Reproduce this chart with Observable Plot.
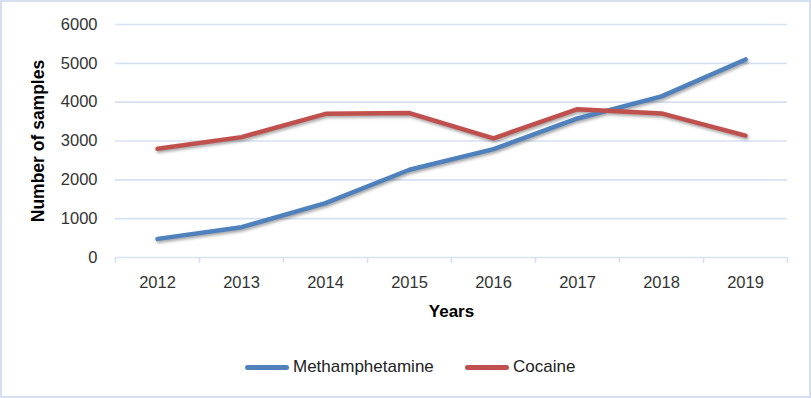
<!DOCTYPE html>
<html>
<head>
<meta charset="utf-8">
<script src="https://cdn.jsdelivr.net/npm/d3@7"></script>
<script src="https://cdn.jsdelivr.net/npm/@observablehq/plot@0.6"></script>
<style>
  html, body { margin: 0; padding: 0; background: #fff; }
  #wrap { position: relative; width: 811px; height: 398px; overflow: hidden; font-family: "Liberation Sans", Arial, sans-serif; }
  #wrap svg.chart { position: absolute; left: 0; top: 0; }
  #frame { position: absolute; left: 0; top: 0; width: 811px; height: 398px; box-sizing: border-box; border: 2px solid #d5dff0; pointer-events: none; }
  .shadow { filter: drop-shadow(1.5px 2px 1.5px rgba(0,0,0,0.35)); }
  #legend { position: absolute; left: 0; top: 357px; width: 811px; height: 20px; font-size: 17px; color: #222; }
  .item { position: absolute; top: 0; display: flex; align-items: center; height: 20px; }
  .swatch { width: 44px; height: 5px; border-radius: 3px; margin-right: 4px; }
</style>
</head>
<body>
<div id="wrap"></div>
<script>
const years = [2012, 2013, 2014, 2015, 2016, 2017, 2018, 2019];
const methamphetamine = [480, 780, 1400, 2260, 2790, 3580, 4150, 5100];
const cocaine = [2800, 3100, 3700, 3720, 3070, 3820, 3710, 3140];
const seriesNames = ["Methamphetamine", "Cocaine"];
const seriesColors = ["#4f81bd", "#c0504d"];
const yTicks = [0, 1000, 2000, 3000, 4000, 5000, 6000];

const data = [];
years.forEach((yr, i) => {
  data.push({year: yr, value: methamphetamine[i], series: seriesNames[0]});
  data.push({year: yr, value: cocaine[i], series: seriesNames[1]});
});
const boundaries = d3.range(years.length + 1).map(i => years[0] - 0.5 + i);
const gridCol = "#d6e1f2";

const chart = Plot.plot({
  width: 811,
  height: 335,
  marginTop: 24,
  marginBottom: 78,
  marginLeft: 115,
  marginRight: 24,
  style: {fontFamily: "Liberation Sans, Arial, sans-serif", fontSize: "16px", color: "#333", background: "transparent"},
  x: {type: "linear", domain: [years[0] - 0.5, years[years.length - 1] + 0.5]},
  y: {domain: [0, 6000]},
  color: {domain: seriesNames, range: seriesColors},
  marks: [
    Plot.ruleY(yTicks, {stroke: gridCol, strokeWidth: 1.6}),
    Plot.axisX({ticks: boundaries, tickSize: 6, stroke: gridCol, strokeWidth: 1.6, tickFormat: () => "", label: null}),
    Plot.axisX({ticks: years, tickSize: 0, tickPadding: 19, tickFormat: d => String(d), fontSize: 16.5, fill: "#333", label: null}),
    Plot.axisY({ticks: yTicks, tickSize: 0, tickPadding: 18, tickFormat: d => String(d), fontSize: 16.5, fill: "#333", label: null}),
    Plot.line(data, {x: "year", y: "value", z: "series", stroke: "series", strokeWidth: 4.5, strokeLinecap: "round", strokeLinejoin: "round", className: "shadow"}),
    Plot.text(["Years"], {frameAnchor: "bottom", lineAnchor: "middle", textAnchor: "middle", dy: 54, text: d => d, fontWeight: "bold", fontSize: 17, fill: "#000"}),
    Plot.text(["Number of samples"], {frameAnchor: "left", lineAnchor: "middle", textAnchor: "middle", dx: -77, rotate: -90, text: d => d, fontWeight: "bold", fontSize: 17.5, fill: "#000"})
  ]
});
chart.classList.add("chart");
const wrap = document.getElementById("wrap");
wrap.appendChild(chart);

const legend = document.createElement("div");
legend.id = "legend";
const lefts = [245, 465];
seriesNames.forEach((name, i) => {
  const it = document.createElement("div");
  it.className = "item";
  it.style.left = lefts[i] + "px";
  const sw = document.createElement("div");
  sw.className = "swatch";
  sw.style.background = seriesColors[i];
  const tx = document.createElement("span");
  tx.textContent = name;
  it.appendChild(sw);
  it.appendChild(tx);
  legend.appendChild(it);
});
wrap.appendChild(legend);
const frame = document.createElement("div");
frame.id = "frame";
wrap.appendChild(frame);
</script>
</body>
</html>
